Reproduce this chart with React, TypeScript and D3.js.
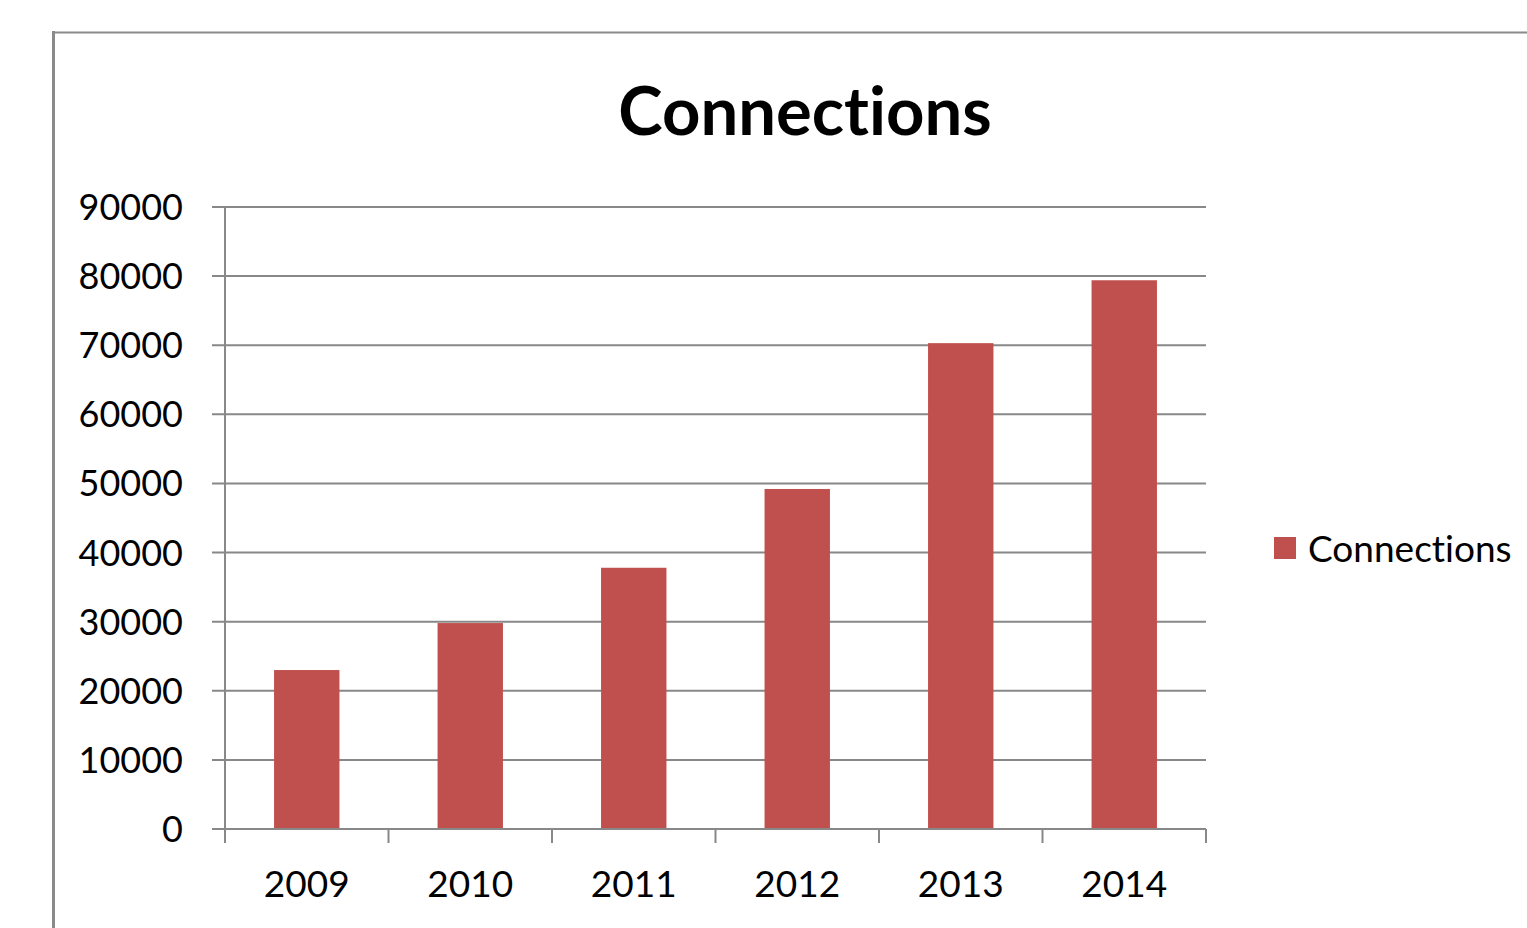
import React from "react";
import * as d3 from "d3";

const categories = ["2009", "2010", "2011", "2012", "2013", "2014"];
const connections = [23000, 29800, 37800, 49200, 70300, 79400];
const yTicks = [0, 10000, 20000, 30000, 40000, 50000, 60000, 70000, 80000, 90000];
const seriesName = "Connections";
const title = "Connections";

const W = 1527;
const H = 928;
const FONT = "Lato, 'Open Sans', sans-serif";
const BAR = "#C0504D";
const GRID = "#888888";

export default function App() {
  const x = d3
    .scaleBand<string>()
    .domain(categories)
    .range([225, 1206])
    .paddingInner(0.6)
    .paddingOuter(0.3);
  const y = d3.scaleLinear().domain([0, 90000]).range([829, 207]);
  const step = x.step();
  const boundaries = d3.range(categories.length + 1).map((i) => 225 + i * step);
  const noLig = { fontVariantLigatures: "none" as const };

  return (
    <svg
      width={W}
      height={H}
      style={{ position: "absolute", left: 0, top: 0, background: "#fff" }}
    >
      {/* frame */}
      <line x1={53.5} y1={31} x2={53.5} y2={H} stroke="#8a8a8a" strokeWidth={3} />
      <line x1={52} y1={32.5} x2={W} y2={32.5} stroke="#8a8a8a" strokeWidth={2} />

      {/* title */}
      <text
        x={805}
        y={135}
        textAnchor="middle"
        fontFamily={FONT}
        fontWeight="bold"
        fontSize={67}
        fill="#000"
        style={noLig}
      >
        {title}
      </text>

      {/* gridlines + y ticks */}
      {yTicks.map((t) => (
        <g key={t}>
          <line x1={212} x2={1206} y1={y(t)} y2={y(t)} stroke={GRID} strokeWidth={2} />
          <text
            x={183}
            y={y(t) + 13}
            textAnchor="end"
            fontFamily={FONT}
            fontSize={36}
            fill="#000"
          >
            {t}
          </text>
        </g>
      ))}

      {/* y axis */}
      <line x1={225} x2={225} y1={y(90000)} y2={y(0)} stroke={GRID} strokeWidth={2} />

      {/* bars */}
      {categories.map((c, i) => (
        <rect
          key={c}
          x={x(c)}
          y={y(connections[i])}
          width={x.bandwidth()}
          height={y(0) - y(connections[i])}
          fill={BAR}
        />
      ))}

      {/* x axis */}
      <line x1={225} x2={1206} y1={y(0)} y2={y(0)} stroke={GRID} strokeWidth={2} />
      {boundaries.map((b, i) => (
        <line key={i} x1={b} x2={b} y1={y(0)} y2={y(0) + 14} stroke={GRID} strokeWidth={2} />
      ))}
      {categories.map((c) => (
        <text
          key={c}
          x={(x(c) as number) + x.bandwidth() / 2}
          y={897}
          textAnchor="middle"
          fontFamily={FONT}
          fontSize={37}
          fill="#000"
        >
          {c}
        </text>
      ))}

      {/* legend */}
      <rect x={1274} y={537} width={22} height={22} fill={BAR} />
      <text x={1308} y={562} fontFamily={FONT} fontSize={37} fill="#000" style={noLig}>
        {seriesName}
      </text>
    </svg>
  );
}
